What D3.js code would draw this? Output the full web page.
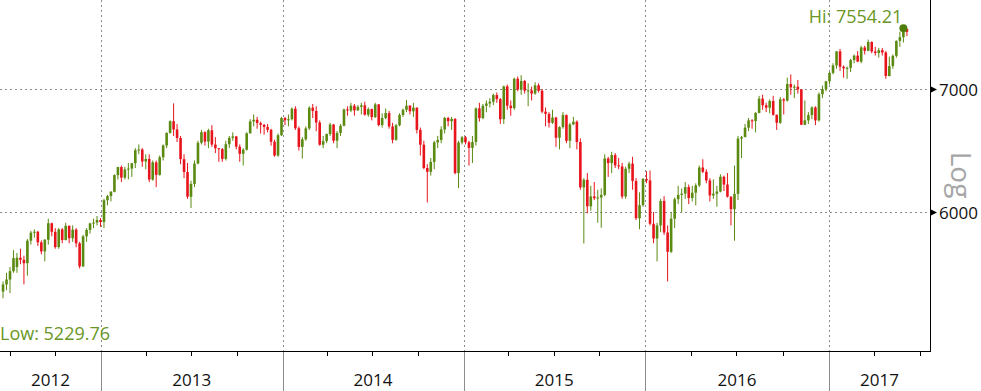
<!DOCTYPE html>
<html><head><meta charset="utf-8">
<script src="https://cdn.jsdelivr.net/npm/d3@7"></script>
<style>
body{margin:0;background:#fff;}
svg{display:block;}
text{font-family:"Open Sans","DejaVu Sans",sans-serif;}
</style>
</head><body>
<svg id="chart" width="981" height="391"></svg>
<script>
// ---- Data: weekly FTSE 100 candles (week ending Friday) ----
const firstWeekEnding = "2012-06-15";

const open = [
 5430,5479,5513,5571,5600,5666,5651,5627,5788,5847,5853,5776,5711,5795,5916,5853,5742,5871,5793,5897,5806,5869,5769,5605,5820,5867,5915,5921,5940,
 5925,6089,6121,6154,6284,6347,6264,6329,6335,6378,6483,6489,6392,6412,6249,6385,6286,6426,6522,6625,6723,6654,6583,6411,6308,6116,6215,6375,6544,6631,6554,6647,6529,6499,6492,6413,6532,6584,6596,6512,6454,6487,6622,6721,6735,6708,6693,6675,6651,6552,6440,6606,
 6750,6731,6740,6829,6664,6510,6572,6663,6838,6810,6712,6528,6557,6616,6695,6561,6625,6685,6823,6814,6855,6815,6845,6858,6778,6826,6758,6866,6691,6750,6792,6679,6568,6689,6776,6820,6855,6807,6838,6650,6528,6340,6310,6389,6547,6567,6654,6750,6723,6742,6300,6546,
 6589,6548,6502,6550,6832,6749,6854,6874,6889,6947,6912,6740,7023,6855,6834,7090,6995,7071,6986,6987,6960,7032,6985,6804,6785,6710,6754,6585,6674,6775,6560,6696,6719,6550,6188,6247,6043,6118,6105,6110,6130,6416,6379,6444,6361,6353,6118,6334,6375,6238,5953,6052,6254,
 6242,5912,5804,5900,6084,5848,5708,5950,6097,6130,6140,6190,6106,6147,6204,6344,6310,6242,6126,6139,6156,6271,6210,6116,6021,6138,6578,6590,6669,6730,6724,6793,6916,6859,6838,6895,6777,6710,6910,6899,7044,7014,7020,6996,6693,6730,6775,6840,6730,6954,6999,7068,
 7143,7210,7338,7198,7184,7188,7258,7299,7244,7374,7343,7425,7337,7323,7349,7328,7115,7204,7297,7435,7470,7547
];
const high = [
 5500,5560,5600,5720,5700,5730,5680,5800,5860,5870,5860,5790,5800,5950,5920,5880,5880,5880,5920,5900,5900,5880,5780,5830,5880,5920,5950,5970,5955,
 6100,6130,6160,6290,6350,6360,6350,6380,6380,6500,6530,6500,6450,6450,6400,6400,6440,6530,6630,6730,6875,6700,6600,6450,6380,6240,6400,6560,6650,6640,6660,6690,6590,6500,6500,6560,6600,6630,6600,6530,6500,6630,6740,6780,6760,6720,6700,6700,6660,6570,6620,6760,
 6760,6780,6840,6850,6680,6590,6680,6850,6870,6850,6730,6600,6620,6710,6700,6640,6700,6830,6850,6880,6870,6860,6880,6890,6840,6830,6880,6870,6790,6830,6810,6710,6700,6790,6830,6905,6860,6880,6840,6670,6560,6370,6420,6560,6600,6680,6760,6760,6760,6750,6560,6600,
 6600,6560,6600,6840,6880,6870,6900,6920,6960,6970,6920,7030,7040,6900,7100,7110,7122,7080,7050,7020,7060,7050,7000,6840,6800,6820,6760,6680,6800,6780,6710,6760,6730,6580,6260,6300,6200,6230,6170,6180,6450,6430,6470,6460,6420,6380,6350,6390,6430,6260,6150,6260,6315,
 6320,6000,5920,6100,6120,5900,6000,6110,6200,6180,6230,6210,6200,6220,6360,6410,6330,6260,6250,6200,6290,6280,6300,6120,6360,6600,6600,6700,6750,6740,6800,6940,6950,6880,6910,6940,6780,6930,6920,7100,7129,7040,7080,7000,6900,6800,6850,6850,6970,7030,7070,7150,
 7230,7340,7360,7210,7200,7270,7310,7340,7390,7390,7447,7430,7380,7370,7370,7340,7290,7310,7440,7520,7554.21,7550
];
const low = [
 5385,5440,5420,5560,5560,5620,5480,5540,5760,5810,5750,5690,5640,5760,5820,5730,5730,5770,5790,5770,5780,5740,5590,5600,5780,5840,5880,5900,5890,
 5880,6050,6080,6150,6250,6230,6250,6250,6270,6340,6450,6350,6330,6230,6240,6190,6280,6400,6500,6620,6600,6550,6370,6260,6100,6030,6190,6370,6530,6520,6500,6510,6460,6390,6390,6400,6500,6560,6490,6390,6360,6480,6620,6680,6660,6620,6610,6630,6520,6430,6430,6600,
 6690,6680,6730,6650,6480,6416,6560,6650,6750,6640,6520,6500,6540,6600,6540,6500,6600,6680,6770,6800,6770,6810,6780,6770,6760,6730,6750,6680,6670,6740,6660,6540,6560,6680,6760,6800,6780,6760,6620,6440,6330,6072,6280,6330,6500,6540,6620,6680,6650,6290,6182,6530,
 6530,6360,6380,6520,6720,6740,6800,6840,6860,6880,6700,6700,6820,6770,6820,6980,6950,6960,6850,6900,6950,6970,6790,6680,6670,6700,6510,6490,6660,6540,6500,6690,6490,6170,5768,5990,6010,6090,5920,5883,6120,6270,6300,6340,6330,6100,6100,6300,6170,5940,5872,6040,6220,
 5900,5770,5640,5850,5830,5500,5700,5880,6060,6000,6100,6060,6080,6050,6190,6300,6220,6080,6100,6040,6150,6160,6110,5900,5788,6090,6420,6590,6640,6660,6630,6790,6820,6800,6790,6770,6650,6700,6780,6890,6950,6920,6960,6690,6690,6700,6740,6690,6720,6920,6980,7040,
 7130,7180,7160,7100,7090,7150,7230,7240,7230,7310,7340,7320,7300,7280,7300,7090,7110,7180,7280,7380,7420,7480
];
const close = [
 5479,5513,5571,5663,5666,5651,5627,5788,5847,5853,5776,5711,5795,5916,5853,5742,5871,5793,5897,5806,5869,5769,5605,5820,5867,5915,5921,5940,5925,
 6089,6121,6154,6284,6347,6264,6329,6335,6378,6483,6489,6392,6412,6249,6385,6286,6426,6522,6625,6723,6654,6583,6411,6308,6116,6215,6375,6544,6631,6554,6647,6529,6499,6492,6413,6532,6584,6596,6512,6454,6487,6622,6721,6735,6708,6693,6675,6651,6552,6440,6606,6750,
 6731,6740,6829,6664,6510,6572,6663,6838,6810,6712,6528,6557,6616,6695,6561,6625,6685,6823,6814,6855,6815,6845,6858,6778,6826,6758,6866,6691,6750,6792,6679,6568,6689,6776,6820,6855,6807,6838,6650,6528,6340,6310,6389,6547,6567,6654,6750,6723,6742,6300,6546,6589,
 6548,6502,6550,6832,6749,6854,6874,6889,6947,6912,6740,7023,6855,6834,7090,6995,7071,6986,6987,6960,7032,6985,6804,6785,6710,6754,6585,6674,6775,6560,6696,6719,6550,6188,6247,6043,6118,6105,6110,6130,6416,6379,6444,6361,6353,6118,6334,6375,6238,5953,6052,6254,6242,
 5912,5804,5900,6084,5848,5708,5950,6097,6130,6140,6190,6106,6147,6204,6344,6310,6242,6126,6139,6156,6271,6210,6116,6021,6138,6578,6590,6669,6730,6724,6793,6916,6859,6838,6895,6777,6710,6910,6899,7044,7014,7020,6996,6693,6730,6775,6840,6730,6954,6999,7068,7143,
 7210,7338,7198,7184,7188,7258,7299,7244,7374,7343,7425,7337,7323,7349,7328,7115,7204,7297,7435,7470,7547,7520
];

const yTickValues = [6000, 7000];
const yearBoundaries = ["2013-01-01","2014-01-01","2015-01-01","2016-01-01","2017-01-01"];
const yearLabels = ["2012","2013","2014","2015","2016","2017"];
const hiText = "Hi: 7554.21";
const lowText = "Low: 5229.76";
const scaleText = "Log";

// ---- Chart ----
const W = 981, H = 391;
const plotRight = 930, axisY = 351;
const green = "#5a8a10", red = "#e8141c", labelGreen = "#6a9626";

const parse = d3.timeParse("%Y-%m-%d");
const start = parse(firstWeekEnding);
const dates = close.map((_, i) => d3.timeFriday.offset(start, i));
const bounds = yearBoundaries.map(parse);

const x = d3.scaleTime().domain(bounds).range([101, 282.5, 463.5, 645, 829]);
const y = d3.scaleLog().domain([6000, 7000]).range([212, 89]);

const svg = d3.select("#chart");

// gridlines
const grid = svg.append("g").attr("stroke", "#8a8a8a").attr("stroke-width", 1).attr("stroke-dasharray", "2,3");
grid.selectAll("line.h").data(yTickValues).join("line").attr("class", "h")
  .attr("x1", 0).attr("x2", plotRight)
  .attr("y1", d => Math.round(y(d)) + 0.5).attr("y2", d => Math.round(y(d)) + 0.5);
grid.selectAll("line.v").data(bounds).join("line").attr("class", "v")
  .attr("x1", d => Math.round(x(d)) + 0.5).attr("x2", d => Math.round(x(d)) + 0.5)
  .attr("y1", 0).attr("y2", axisY);

// candles
const candles = svg.append("g");
dates.forEach((d, i) => {
  const cx = x(d3.timeDay.offset(d, 3));
  const up = close[i] >= open[i];
  const col = up ? green : red;
  candles.append("line")
    .attr("x1", cx).attr("x2", cx)
    .attr("y1", y(high[i])).attr("y2", y(low[i]))
    .attr("stroke", col).attr("stroke-width", 1);
  const yTop = y(Math.max(open[i], close[i]));
  const yBot = y(Math.min(open[i], close[i]));
  candles.append("rect")
    .attr("x", cx - 1.3).attr("width", 2.6)
    .attr("y", yTop).attr("height", Math.max(1, yBot - yTop))
    .attr("fill", col);
});

// high marker
const hiIdx = d3.maxIndex(high);
const hx = x(d3.timeDay.offset(dates[hiIdx], 3)), hy = y(high[hiIdx]);
svg.append("circle").attr("cx", hx).attr("cy", hy).attr("r", 4).attr("fill", "#4f7d0c");
svg.append("text").attr("x", hx - 1).attr("y", hy - 5).attr("text-anchor", "end")
  .attr("font-size", 18).attr("fill", labelGreen).text(hiText);
svg.append("text").attr("x", 0).attr("y", 340).attr("text-anchor", "start")
  .attr("font-size", 18).attr("fill", labelGreen).text(lowText);

// axes lines
svg.append("line").attr("x1", 0).attr("x2", plotRight + 0.5).attr("y1", axisY + 0.5).attr("y2", axisY + 0.5)
  .attr("stroke", "#000").attr("stroke-width", 1);
svg.append("line").attr("x1", plotRight + 0.5).attr("x2", plotRight + 0.5).attr("y1", 0).attr("y2", axisY + 1)
  .attr("stroke", "#000").attr("stroke-width", 1);

// quarter ticks
const qTicks = d3.timeMonth.every(3).range(x.invert(0), x.invert(plotRight)).filter(d => d.getMonth() !== 0);
svg.append("g").selectAll("line").data(qTicks).join("line")
  .attr("x1", d => Math.round(x(d)) + 0.5).attr("x2", d => Math.round(x(d)) + 0.5)
  .attr("y1", axisY + 1).attr("y2", axisY + 5).attr("stroke", "#000");
// year separators
svg.append("g").selectAll("line").data(bounds).join("line")
  .attr("x1", d => Math.round(x(d)) + 0.5).attr("x2", d => Math.round(x(d)) + 0.5)
  .attr("y1", axisY + 1).attr("y2", H).attr("stroke", "#8c8c8c");
// year labels centered in their visible span
svg.append("g").selectAll("text").data(yearLabels).join("text")
  .attr("x", d => {
    const a = Math.max(0, x(new Date(+d, 0, 1)));
    const b = Math.min(plotRight, x(new Date(+d + 1, 0, 1)));
    return (a + b) / 2;
  })
  .attr("y", 386).attr("text-anchor", "middle").attr("font-size", 17).attr("fill", "#111")
  .text(d => d);

// right axis arrows + labels
const ya = svg.append("g");
yTickValues.forEach(v => {
  const yy = Math.round(y(v)) + 0.5;
  ya.append("path").attr("d", `M${plotRight + 1},${yy - 3} L${plotRight + 7},${yy} L${plotRight + 1},${yy + 3} Z`).attr("fill", "#000");
  ya.append("text").attr("x", plotRight + 9).attr("y", yy + 6).attr("font-size", 17).attr("fill", "#111").text(d3.format("d")(v));
});

// "Log" label
svg.append("text").attr("transform", "translate(951,175) rotate(90)")
  .attr("text-anchor", "middle").attr("font-size", 28).attr("fill", "#a6a6a6").text(scaleText);
</script>
</body></html>
